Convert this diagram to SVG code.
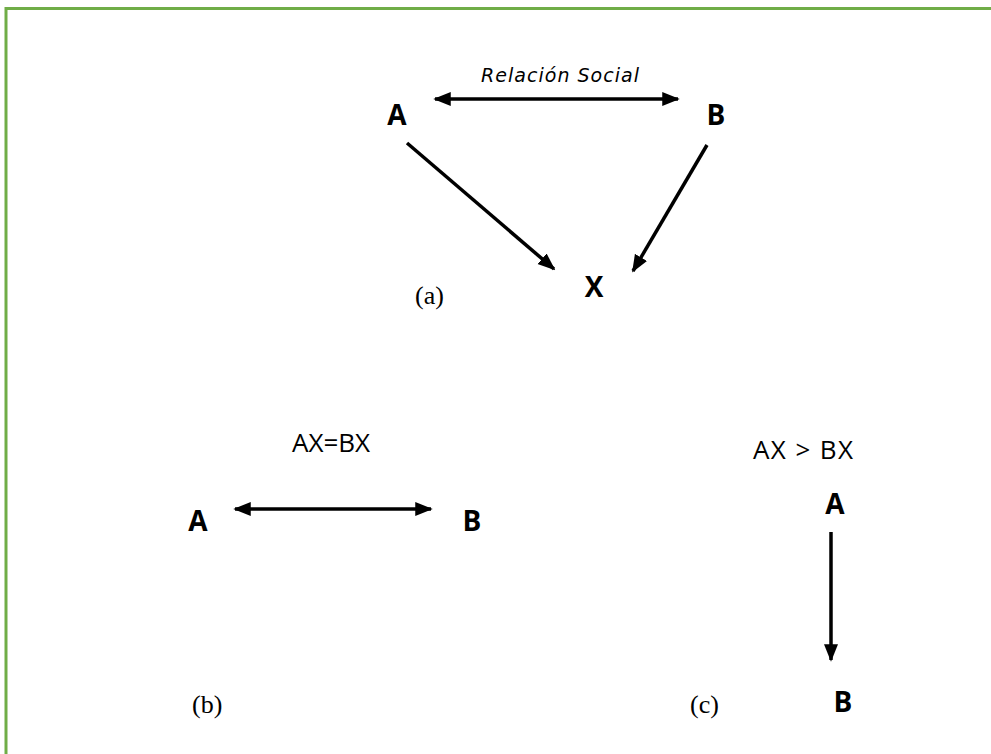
<svg xmlns="http://www.w3.org/2000/svg" width="991" height="754" viewBox="0 0 991 754">
<style>
.lbl{font-family:"Open Sans","Liberation Sans",sans-serif;font-weight:bold;font-size:28px;fill:#000;text-anchor:middle}
.reg{font-family:"Open Sans","Liberation Sans",sans-serif;font-size:26px;fill:#000}
.ser{font-family:"Liberation Serif","Times New Roman",serif;font-size:26px;fill:#000}
.cur{font-family:"DejaVu Sans",sans-serif;font-style:italic;font-size:19px;fill:#000}
.edge{stroke:#000;stroke-width:3.5;fill:none}
</style>
<defs>
<marker id="ah" viewBox="0 0 10 10" refX="9" refY="5" markerWidth="5" markerHeight="5" orient="auto-start-reverse" markerUnits="strokeWidth">
<path d="M0,1 L10,5 L0,9 z" fill="#000"/>
</marker>
</defs>
<rect width="991" height="754" fill="#fff"/>
<g id="frame">
<path d="M6,754 V8.5 H991" stroke="#70AD47" stroke-width="3" fill="none"/>
</g>
<g id="connectors">
<line class="edge" x1="435" y1="99" x2="678" y2="99" marker-start="url(#ah)" marker-end="url(#ah)"/>
<line class="edge" x1="407" y1="143" x2="554" y2="269" marker-end="url(#ah)"/>
<line class="edge" x1="707" y1="145" x2="633" y2="271" marker-end="url(#ah)"/>
<line class="edge" x1="235" y1="509" x2="431" y2="509" marker-start="url(#ah)" marker-end="url(#ah)"/>
<line class="edge" x1="831" y1="532" x2="831" y2="660" marker-end="url(#ah)"/>
</g>
<g id="label-relacion"><text class="cur" x="481" y="82" textLength="158" lengthAdjust="spacing">Relación Social</text></g>
<g id="node-A-a"><text class="lbl" x="397" y="125">A</text></g>
<g id="node-B-a"><text class="lbl" x="716" y="125">B</text></g>
<g id="node-X-a"><text class="lbl" x="594" y="297">X</text></g>
<g id="caption-a"><text class="ser" x="415" y="304">(a)</text></g>
<g id="label-b"><text class="reg" x="292" y="452">AX=BX</text></g>
<g id="node-A-b"><text class="lbl" x="198" y="531">A</text></g>
<g id="node-B-b"><text class="lbl" x="472" y="531">B</text></g>
<g id="caption-b"><text class="ser" x="192" y="713">(b)</text></g>
<g id="label-c"><text class="reg" x="753" y="459" textLength="100" lengthAdjust="spacing">AX &gt; BX</text></g>
<g id="node-A-c"><text class="lbl" x="835" y="514">A</text></g>
<g id="node-B-c"><text class="lbl" x="843" y="712">B</text></g>
<g id="caption-c"><text class="ser" x="690" y="713">(c)</text></g>
</svg>
